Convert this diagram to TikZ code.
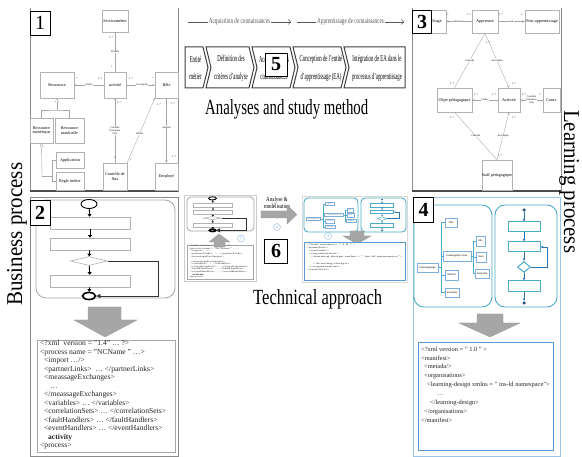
\documentclass[tikz,border=0pt]{standalone}
\usepackage{fontspec}
\setmainfont{Liberation Serif}
\usepackage{graphicx}
\usetikzlibrary{shapes.geometric,arrows.meta,calc}
\definecolor{frameg}{HTML}{8C8C8C}
\definecolor{lblue}{HTML}{4BACC6}
\definecolor{dblue}{HTML}{2E75B6}
\definecolor{fblue}{HTML}{9DC3E6}
\definecolor{cblue}{HTML}{5B9BD5}
\definecolor{arrg}{HTML}{A6A6A6}
\newcommand\bx[7][]{\pgfmathsetmacro\bxw{(#5)-(#3)}\pgfmathsetmacro\bxh{(#6)-(#4)}\pgfmathsetmacro\bxx{((#3)+(#5))/2}\pgfmathsetmacro\bxy{((#4)+(#6))/2}\node[#1, minimum width=\bxw pt, minimum height=\bxh pt] (#2) at (\bxx,\bxy) {#7};}
\tikzset{
  ub/.style={draw=gray!60, fill=white, inner sep=0pt, align=center, font=\fontsize{4.2}{4.8}\selectfont},
  lb/.style={inner sep=0.2pt, align=center, font=\fontsize{2.6}{2.9}\selectfont},
  lbw/.style={lb, fill=white},
  uc/.style={draw=gray!70, line width=0.35pt},
  ua/.style={uc, -{Straight Barb[length=2pt,width=2.4pt]}},
  inh/.style={uc, -{Triangle[open, length=4pt, width=4pt]}},
  numbox/.style={draw=black, fill=white, line width=0.8pt, inner sep=0pt, font=\fontsize{20}{20}\selectfont\bfseries},
  pframe/.style={draw=frameg, line width=0.5pt},
  garr/.style={fill=arrg, draw=gray!80, line width=0.3pt},
  fb/.style={draw=gray!60, fill=white, line width=0.6pt, inner sep=0pt},
  farr/.style={draw=black, line width=0.9pt, -{Triangle[length=2.5pt,width=4pt]}},
  floop/.style={draw=black!80, line width=0.6pt},
  rr/.style={rounded corners=10pt},
  fbb/.style={draw=lblue, line width=1pt, fill=white, inner sep=0pt},
  fbarr/.style={draw=dblue, line width=0.5pt, -{Latex[length=2.5pt,width=2.5pt]}},
  tb/.style={draw=cblue!80, line width=0.5pt, fill=white, inner sep=0pt, font=\fontsize{2.8}{3}\selectfont},
  tl/.style={draw=lblue, line width=0.4pt},
  codetxt/.style={inner sep=0pt, align=left, text=black!85},
  chev/.style={draw=black!75, line width=1pt, fill=white, line join=miter},
  chtxt/.style={align=center, inner sep=0pt, yscale=1.9, font=\fontsize{4.8}{9.3}\selectfont},
  circn/.style={draw=cblue!70, circle, inner sep=0pt, minimum size=7pt, font=\fontsize{4}{4}\selectfont, text=cblue},
}
% panel 2 flowchart
\newcommand\flowA[1]{%
 \draw[rr, draw=gray!70, line width=0.8pt] (36,200) rectangle (175,298);
 \node[draw=black, line width=0.9pt, ellipse, minimum width=16pt, minimum height=9pt, inner sep=0pt, fill=white] (#1s) at (89,204) {};
 \bx[fb]{#1r1}{50}{217}{130}{229}{}
 \bx[fb]{#1r2}{50}{238}{130}{250}{}
 \node[fb, diamond, minimum width=37pt, minimum height=9pt] (#1d) at (89,261) {};
 \bx[fb]{#1r3}{50}{275}{130}{287}{}
 \node[draw=black, line width=1.6pt, ellipse, minimum width=13pt, minimum height=7pt, inner sep=0pt, fill=white] (#1e) at (89,296) {};
 \coordinate (#1c) at (158,261);
 \draw[farr] (#1s) -- (#1r1);
 \draw[farr] (#1r1) -- (#1r2);
 \draw[farr] (#1r2) -- (#1d);
 \draw[farr] (#1d) -- (#1r3);
 \draw[farr] (#1r3) -- (#1e);
 \draw[floop] (#1d.east) -- (#1c);
 \draw[floop, -{Triangle[length=4pt,width=4pt]}] (#1c) |- (#1e.east);
}
% panel 2 code
\newcommand\codeA[1]{%
 \bx[draw=gray!70, line width=0.6pt, fill=white]{#1b}{37}{340}{175}{452}{}
 \node[codetxt, anchor=north west, font=\fontsize{7.6}{8.47}\selectfont] (#1t) at (40,340.5) {%
 <?xml\ \ version = "1.4" … ?>\\
 <process name = "NCName " …>\\
 \hspace*{4pt}<import …/>\\
 \hspace*{4pt}<partnerLinks>\ \ … </partnerLinks>\\
 \hspace*{4pt}<meassageExchanges>\\
 \hspace*{10pt}…\\
 \hspace*{4pt}</meassageExchanges>\\
 \hspace*{4pt}<variables> … </variables>\\
 \hspace*{4pt}<correlationSets> … </correlationSets>\\
 \hspace*{4pt}<faultHandlers> … </faultHandlers>\\
 \hspace*{4pt}<eventHandlers> … </eventHandlers>\\
 \hspace*{8pt}\textbf{activity}\\
 <process>};
}
% panel 4 tree
\newcommand\treeB[1]{%
 \draw[rr, draw=lblue, line width=0.9pt] (414,205) rectangle (492,307);
 \bx[tb]{#1ld}{417}{263}{438}{272}{learningdesign}
 \bx[tb]{#1ta}{445}{218}{457}{227}{Title}
 \bx[tb]{#1lo}{443}{251}{471}{261}{learningobjectives}
 \bx[tb]{#1me}{445}{270}{458}{280}{method}
 \bx[tb]{#1md}{445}{288}{459}{297}{metadata}
 \bx[tb]{#1tb}{476}{236}{485}{246}{title}
 \bx[tb]{#1it}{476}{252}{486}{262}{item}
 \bx[tb]{#1mb}{475}{269}{489}{278}{metadata}
 \coordinate (#1v) at (441,267.5);
 \coordinate (#1w) at (473,256);
 \draw[tl] (#1ld.east) -- (#1v);
 \draw[tl] (#1ta.west) -| (#1v);
 \draw[tl] (#1lo.west) -| (#1v);
 \draw[tl] (#1me.west) -| (#1v);
 \draw[tl] (#1md.west) -| (#1v);
 \draw[tl] (#1lo.east) -- (#1w);
 \draw[tl] (#1tb.west) -| (#1w);
 \draw[tl] (#1it.west) -| (#1w);
 \draw[tl] (#1mb.west) -| (#1w);
}
% panel 4 flowchart
\newcommand\flowB[1]{%
 \draw[rr, draw=lblue, line width=0.9pt] (495,205) rectangle (557,307);
 \node[circle, fill=dblue!70!black, inner sep=0pt, minimum size=3.5pt] (#1s) at (524,210) {};
 \bx[fbb]{#1r1}{508}{222}{540}{232}{}
 \bx[fbb]{#1r2}{508}{242}{540}{252}{}
 \node[fbb, diamond, minimum width=13pt, minimum height=11pt] (#1d) at (524,267) {};
 \bx[fbb]{#1r3}{508}{281}{540}{292}{}
 \node[circle, fill=dblue!70!black, inner sep=0pt, minimum size=3.5pt] (#1e) at (524,303) {};
 \coordinate (#1c) at (547,267);
 \draw[fbarr] (#1s) -- (#1r1);
 \draw[fbarr] (#1r1) -- (#1r2);
 \draw[fbarr] (#1r2) -- (#1d);
 \draw[fbarr] (#1d) -- (#1r3);
 \draw[fbarr] (#1r3) -- (#1e);
 \draw[fbarr] (#1d.east) -- (#1c) |- (#1r2.east);
}
% panel 4 code
\newcommand\codeB[1]{%
 \bx[draw=cblue, line width=0.8pt, fill=white]{#1b}{418}{342}{553}{450}{}
 \node[codetxt, anchor=north west, font=\fontsize{6.4}{8.9}\selectfont] (#1t) at (421,346.5) {%
 <?xml version = " 1.0 " >\\
 <manifest>\\
 \hspace*{3pt}<metada/>\\
 \hspace*{3pt}<organisations>\\
 \hspace*{6pt}<learning-design xmlns = " ins-ld namespace">\\
 \hspace*{16pt}…\\
 \hspace*{9pt}</learning-design>\\
 \hspace*{3pt}</organisations>\\
 </manifest>};
}
\begin{document}
\begin{tikzpicture}[x=1pt,y=-1pt]
\useasboundingbox (0,0) rectangle (582,457);
\fill[white] (0,0) rectangle (582,457);

% ---------------- Panel 1 ----------------
\draw[pframe] (30,8) -- (30,191) -- (178,191) -- (178,8);
\draw[line width=1.3pt, gray!60!black] (30,191) -- (178,191);
\bx[ub]{sm}{102}{10}{128}{32}{Servicemétier}
\bx[ub]{act}{104}{72}{126}{98}{activité}
\bx[ub]{res}{40}{72}{74}{98}{Ressource}
\bx[ub]{role}{155}{72}{178}{98}{Rôle}
\bx[ub]{rn}{30}{118}{53}{143}{Ressource\\numérique}
\bx[ub]{rm}{55}{118}{84}{143}{Ressource\\matérielle}
\bx[ub]{app}{56}{152}{84}{168}{Application}
\bx[ub]{rgl}{56}{172}{84}{190}{Règle métier}
\bx[ub]{cf}{103}{163}{127}{190}{Contrôle de\\flux}
\bx[ub]{emp}{155}{163}{178}{190}{Employé}
\draw[uc] (sm) -- (act) node[lbw, pos=0.5] (l1a) {Produit};
\node[lb] (l1b) at (111,38) {1..*};
\node[lb] (l1c) at (112,67) {1};
\draw[ua] (act) -- (res) node[lbw, pos=0.5] (l1d) {Utilise};
\node[lb] (l1e) at (77,79) {*};
\node[lb] (l1f) at (100,79) {1..*};
\draw[ua] (act) -- (role) node[lbw, pos=0.55] (l1g) {Accomplie};
\node[lb] (l1h) at (131,79) {1..*};
\node[lb] (l1i) at (153,79) {*};
\draw[ua] (cf) -- (act) node[lbw, pos=0.5] (l1j) {Contrôle\\Exécution\\Gère};
\node[lb] (l1k) at (119,103) {1..*};
\node[lb] (l1l) at (115,158) {1};
\draw[ua] (cf.north east) -- (role.south west) node[lbw, pos=0.45] (l1m) {affecte};
\node[lb] (l1n) at (159,105) {1..*};
\node[lb] (l1o) at (131,160) {1};
\draw[ua] (role.south -| emp.north) -- (emp.north) node[lbw, pos=0.45] (l1p) {Assume};
\node[lb] (l1q) at (173,104) {1..*};
\node[lb] (l1r) at (174,157) {1..*};
\coordinate (i1) at (57,110);
\draw[inh] (i1) -- (res.south);
\draw[uc] (rn.north) |- (i1) -| (rm.north);
\coordinate (j1) at (42,176);
\coordinate (j2) at (52,176);
\draw[inh] (j1) -- (rn.south);
\draw[uc] (j1) -- (j2);
\draw[uc] (app.west) -| (j2);
\draw[uc] (rgl.west) -| (j2);
\node[numbox, minimum width=20pt, minimum height=24pt, font=\fontsize{20}{20}\selectfont] (n1) at (40,23) {1};

% ---------------- Panel 5 ----------------
\coordinate (ac1) at (188,22);
\coordinate (ac2) at (291,22);
\coordinate (ap1) at (297,22);
\coordinate (ap2) at (404,22);
\draw[gray!70!black, line width=0.4pt, -{Straight Barb[length=2.5pt]}] (ac1) -- (ac2) node[midway, fill=white, inner sep=1pt, yscale=1.5, font=\fontsize{5.2}{6}\selectfont] (acq) {Acquisition de connaissances};
\draw[gray!70!black, line width=0.4pt, -{Straight Barb[length=2.5pt]}] (ap1) -- (ap2) node[midway, fill=white, inner sep=1pt, yscale=1.5, font=\fontsize{5.2}{6}\selectfont] (apr) {Apprentissage de connaissances};
\draw[chev] (185,47) -- (203,47) -- (208,67.5) -- (203,88) -- (185,88) -- cycle;
\draw[chev] (206,47) -- (249,47) -- (254,67.5) -- (249,88) -- (206,88) -- (211,67.5) -- cycle;
\draw[chev] (252,47) -- (290,47) -- (295,67.5) -- (290,88) -- (252,88) -- (257,67.5) -- cycle;
\draw[chev] (293,47) -- (341,47) -- (346,67.5) -- (341,88) -- (293,88) -- (298,67.5) -- cycle;
\draw[chev] (344,47) -- (405,47) -- (405,88) -- (344,88) -- (349,67.5) -- cycle;
\node[chtxt] (ch1) at (195.5,68) {Entité\\métier};
\node[chtxt] (ch2) at (231,68) {Définition des\\critères d'analyse};
\node[chtxt] (ch3) at (274,68) {Acquisition des\\connaissances};
\node[chtxt] (ch4) at (321,68) {Conception de l'entité\\d'apprentissage (EA)};
\node[chtxt] (ch5) at (377,68) {Intégration de EA dans le\\processus d'apprentissage};
\node[numbox, minimum width=22pt, minimum height=23pt] (n5) at (276,64.5) {5};
\node[anchor=base west, inner sep=0pt] (t5) at (205,115) {\resizebox{163pt}{15pt}{Analyses and study method}};

% ---------------- Panel 3 ----------------
\draw[pframe] (412,8) -- (412,191) -- (561,191) -- (561,8);
\draw[line width=1.3pt, gray!60!black] (412,191) -- (561,191);
\bx[ub]{stg}{428}{10}{446}{33}{Stage}
\bx[ub]{appr}{472}{10}{498}{33}{Apprenant}
\bx[ub]{post}{525}{10}{559}{33}{Post-apprentissage}
\bx[ub]{obj}{437}{88}{472}{112}{Objet pédagogique}
\bx[ub]{act3}{498}{88}{520}{112}{Activité}
\bx[ub]{cours}{543}{88}{560}{112}{Cours}
\bx[ub]{staff}{482}{160}{512}{190}{Staff pédagogique}
\draw[ua] (appr) -- (stg) node[lbw, pos=0.5] (l3a) {Devient};
\node[lb] (l3b) at (448,15) {1};
\node[lb] (l3c) at (469,15) {1..*};
\draw[ua] (appr) -- (post) node[lbw, pos=0.5] (l3d) {suit};
\node[lb] (l3e) at (501,15) {1..*};
\node[lb] (l3f) at (522,15) {1};
\draw[uc] (appr.south) -- (obj.north) node[lbw, pos=0.5] (l3g) {Consulte};
\draw[ua] (appr.south) -- (act3.north) node[lbw, pos=0.5] (l3h) {Accomplit};
\node[lb] (l3i) at (488,43) {1..*};
\node[lb] (l3j) at (452,84) {1..*};
\node[lb] (l3k) at (514,84) {1..*};
\draw[ua] (act3) -- (obj) node[lbw, pos=0.5] (l3l) {Utilise};
\node[lb] (l3m) at (476,95) {1..*};
\node[lb] (l3n) at (494,95) {1..*};
\draw[ua] (cours) -- (act3) node[lbw, pos=0.5] (l3o) {Contrôle\\Exécution\\Gère};
\node[lb] (l3p) at (524,95) {1..*};
\node[lb] (l3q) at (540,95) {1};
\draw[uc] (staff.north) -- (obj.south) node[lbw, pos=0.5] (l3r) {Consulte};
\draw[ua] (staff.north) -- (act3.south) node[lbw, pos=0.5] (l3s) {Accomplit};
\node[lb] (l3t) at (452,118) {1..*};
\node[lb] (l3u) at (514,118) {1..*};
\node[lb] (l3v) at (500,156) {1..*};
\node[numbox, minimum width=19pt, minimum height=23pt] (n3) at (422,21.5) {3};

% ---------------- Side titles ----------------
\node[rotate=90, anchor=base west, inner sep=0pt] (tbp) at (22,306) {\resizebox{143pt}{15pt}{Business process}};
\node[rotate=-90, anchor=base west, inner sep=0pt] (tlp) at (564,110) {\resizebox{143pt}{15pt}{Learning process}};

% ---------------- Panel 2 ----------------
\draw[pframe] (30,197) rectangle (178,456.5);
\flowA{fa}
\draw[garr] (88,307) -- (121,307) -- (121,320) -- (137,320) -- (105,337) -- (74,320) -- (88,320) -- cycle;
\codeA{ca}
\node[numbox, minimum width=20pt, minimum height=25pt] (n2) at (40,212.5) {2};

% ---------------- Panel 4 ----------------
\draw[draw=fblue, line width=0.6pt] (413,197) rectangle (560,456.5);
\treeB{tr}
\flowB{fl}
\draw[garr] (477,314) -- (503,314) -- (503,323) -- (520,323) -- (490,337) -- (459,323) -- (477,323) -- cycle;
\codeB{cb}
\node[numbox, minimum width=20pt, minimum height=25pt] (n4) at (423.5,209.5) {4};

% ---------------- Panel 6 ----------------
\draw[draw=gray!40, line width=0.5pt] (184,195) rectangle (256,281);
\begin{scope}[shift={({187-0.482*36},{197-0.347*200})}, xscale=0.482, yscale=0.347, transform shape,
  rr/.style={rounded corners=4pt},
  farr/.style={draw=black, line width=0.4pt, -{Triangle[length=1.5pt,width=2pt]}},
  floop/.style={draw=black!80, line width=0.3pt}]
 \flowA{ma}
\end{scope}
\begin{scope}[shift={({187-0.478*37},{245-0.304*340})}, xscale=0.478, yscale=0.304, transform shape]
 \codeA{mc}
\end{scope}
\draw[garr] (219,234) -- (230,242) -- (225,242) -- (225,247) -- (214,247) -- (214,242) -- (209,242) -- cycle;
\node[circn] (c1) at (241,238.5) {1};
\node[yscale=1.3, align=center, inner sep=0pt, font=\fontsize{5}{5.5}\selectfont] (am) at (277,203) {Analyse \&\\modélisation};
\draw[garr] (261,211) -- (287,211) -- (287,205) -- (297,214.5) -- (287,224) -- (287,218) -- (261,218) -- cycle;
\node[circn] (c2) at (277,227) {2};
\node[numbox, minimum width=23pt, minimum height=24pt] (n6) at (276,251) {6};
\draw[draw=gray!30, line width=0.5pt] (302,196) rectangle (407,282);
\begin{scope}[shift={({304-0.692*414},{198-0.333*205})}, xscale=0.692, yscale=0.333, transform shape,
  rr/.style={rounded corners=4pt}, tl/.style={draw=lblue, line width=0.3pt},
  tb/.style={draw=cblue!80, line width=0.3pt, fill=white, inner sep=0pt, font=\fontsize{2.8}{3}\selectfont}]
 \treeB{mt}
\end{scope}
\begin{scope}[shift={({361-0.726*495},{198-0.333*205})}, xscale=0.726, yscale=0.333, transform shape,
  rr/.style={rounded corners=4pt},
  fbb/.style={draw=lblue, line width=0.5pt, fill=white, inner sep=0pt},
  fbarr/.style={draw=dblue, line width=0.3pt, -{Latex[length=1.5pt,width=1.5pt]}}]
 \flowB{mf}
\end{scope}
\draw[garr] (350,231) -- (364,231) -- (364,236) -- (371,236) -- (357,244) -- (343,236) -- (350,236) -- cycle;
\node[circn] (c3) at (328,236) {3};
\begin{scope}[shift={({304-0.748*418},{242-0.352*342})}, xscale=0.748, yscale=0.352, transform shape]
 \codeB{mcb}
\end{scope}
\node[anchor=base west, inner sep=0pt] (t6) at (253,305) {\resizebox{129pt}{15pt}{Technical approach}};
\end{tikzpicture}
\end{document}
